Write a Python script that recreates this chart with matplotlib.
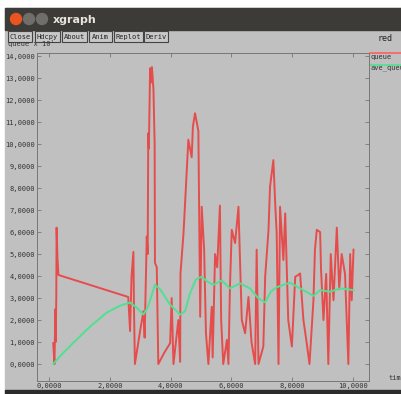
#!/usr/bin/env python3

import matplotlib
matplotlib.use('Agg')
import matplotlib.pyplot as plt
from matplotlib.patches import Rectangle, Circle
from matplotlib.ticker import FuncFormatter

# queue trace (x = time, y = queue x 10^1)
queue_t = [0.13, 0.17, 0.20, 0.21, 0.23, 0.24, 0.27, 0.30,
           2.60, 2.66, 2.71, 2.77, 2.79, 2.82,
           2.99, 3.10, 3.14, 3.21, 3.24, 3.26, 3.28, 3.32, 3.35, 3.38, 3.43, 3.47, 3.48, 3.54, 3.59,
           3.78, 3.98, 4.03, 4.09, 4.17, 4.25, 4.31, 4.32, 4.42, 4.50, 4.58, 4.69, 4.73, 4.80, 4.91,
           4.97, 5.02, 5.10, 5.16, 5.24, 5.35, 5.38, 5.46, 5.53, 5.62, 5.66, 5.73, 5.85, 5.90,
           5.95, 6.01, 6.12, 6.23, 6.34, 6.45, 6.56, 6.66, 6.78, 6.83, 6.89, 7.05, 7.11, 7.22,
           7.27, 7.38, 7.44, 7.49, 7.55, 7.60, 7.71, 7.77, 7.87, 7.99, 8.10, 8.20, 8.26, 8.37,
           8.48, 8.57, 8.70, 8.75, 8.81, 8.92, 8.95, 9.03, 9.12, 9.19, 9.27, 9.36, 9.47, 9.55,
           9.63, 9.74, 9.85, 9.91, 9.96, 10.02]
queue_v = [0.95, 0.0, 2.5, 1.0, 3.0, 6.2, 4.8, 4.05,
           3.05, 1.5, 4.0, 5.1, 2.5, 0.0,
           1.5, 2.4, 1.2, 5.8, 5.0, 10.5, 9.8, 13.45, 12.8, 13.5, 12.5, 10.0, 4.6, 4.4, 0.0,
           0.5, 0.95, 3.0, 0.0, 1.0, 2.0, 0.1, 4.1, 5.94, 8.06, 10.2, 9.4, 10.8, 11.4, 10.6,
           2.15, 7.15, 5.2, 1.4, 0.0, 2.6, 0.3, 5.0, 4.4, 7.2, 2.0, 0.0, 1.1, 0.0,
           3.5, 6.1, 5.5, 7.15, 2.0, 1.4, 3.05, 1.0, 0.0, 5.2, 0.0, 0.8, 3.97, 6.1,
           8.06, 9.27, 7.3, 5.94, 0.0, 7.15, 4.73, 6.85, 2.0, 0.8, 3.97, 4.05, 4.12, 2.0,
           0.94, 0.0, 2.9, 5.2, 6.1, 6.0, 4.3, 2.0, 4.1, 0.0, 5.0, 2.9, 6.2, 3.4,
           5.0, 4.1, 0.0, 5.0, 2.9, 5.2]

ave_t = [0.13, 0.35, 0.78, 1.34, 1.90, 2.33, 2.66, 2.89, 3.10, 3.25, 3.48, 3.65, 3.98,
         4.31, 4.47, 4.63, 4.83, 5.02, 5.20, 5.40, 5.68, 5.95, 6.28, 6.61, 6.88, 7.11,
         7.30, 7.50, 7.93, 8.26, 8.70, 8.92, 9.25, 9.58, 10.02]
ave_v = [0.0, 0.35, 0.95, 1.7, 2.35, 2.65, 2.8, 2.55, 2.25, 2.6, 3.6, 3.4, 2.7,
         2.25, 2.4, 3.2, 3.85, 3.97, 3.75, 3.6, 3.8, 3.44, 3.67, 3.44, 3.0, 2.8,
         3.3, 3.5, 3.7, 3.44, 3.1, 3.36, 3.29, 3.44, 3.36]

x_ticks = [0, 2, 4, 6, 8, 10]
y_ticks = list(range(0, 15))
buttons = ['Close', 'Hdcpy', 'About', 'Anim', 'Replot', 'Deriv']

W, H = 402, 394
fig = plt.figure(figsize=(W / 100, H / 100), dpi=100)
fig.patch.set_facecolor('white')

# window chrome drawn in pixel coordinates
bg = fig.add_axes([0, 0, 1, 1])
bg.set_xlim(0, W)
bg.set_ylim(H, 0)
bg.axis('off')
bg.add_patch(Rectangle((5, 8), W - 5, 384, color='#c0c0c0'))
bg.add_patch(Rectangle((5, 8), W - 5, 22, color='#3c3b37'))
bg.add_patch(Rectangle((5, 390), W - 5, 4, color='#2b2b2b'))
bg.add_patch(Circle((16, 19), 5.5, color='#e95420'))
bg.add_patch(Circle((29, 19), 5.5, color='#6f6e6a'))
bg.add_patch(Circle((42, 19), 5.5, color='#6f6e6a'))
bg.text(53, 19.5, 'xgraph', color='#e8e4dc', fontsize=8, fontweight='bold', va='center')
bg.text(8, 43.5, 'queue x 10¹', fontsize=5, family='DejaVu Sans Mono', color='#333333', va='center')
bx = [8, 35, 62, 89, 114, 144]
bw = [24, 25, 25, 23, 29, 24]
for label, x0, w in zip(buttons, bx, bw):
    bg.add_patch(Rectangle((x0, 31), w, 11, facecolor='#c8c8c8', edgecolor='#444444', lw=0.8))
    bg.text(x0 + w / 2, 36.8, label, fontsize=5, family='DejaVu Sans Mono', ha='center', va='center', color='#222222')
bg.text(378, 38, 'red', fontsize=6, family='DejaVu Sans Mono', va='center', color='#222222')
bg.plot([370, 402], [53, 53], color='#ff6060', lw=1.2)
bg.text(371, 56.5, 'queue', fontsize=5, family='DejaVu Sans Mono', va='center', color='#333333')
bg.plot([370, 402], [64.5, 64.5], color='#50e090', lw=1.2)
bg.text(371, 68, 'ave_queue', fontsize=5, family='DejaVu Sans Mono', va='center', color='#333333')
bg.text(389, 378, 'time', fontsize=5, family='DejaVu Sans Mono', va='center', color='#333333')

# plot area
ax = fig.add_axes([37 / W, (H - 381) / H, 332 / W, 328 / H])
ax.set_facecolor('#c0c0c0')
ax.plot(queue_t, queue_v, color='#ff0000', alpha=0.6, lw=1.4)
ax.plot(ave_t, ave_v, color='#50e090', lw=1.4)
ax.set_xlim(-0.405, 10.53)
ax.set_ylim(-0.77, 14.14)
ax.set_xticks(x_ticks)
ax.set_yticks(y_ticks)
fmt = FuncFormatter(lambda v, p: f'{v:.4f}'.replace('.', ','))
ax.xaxis.set_major_formatter(fmt)
ax.yaxis.set_major_formatter(fmt)
ax.tick_params(direction='in', length=3, width=0.6, color='#777777', labelsize=5,
               labelcolor='#333333', pad=1.5, top=True, right=True)
for lab in ax.get_xticklabels() + ax.get_yticklabels():
    lab.set_family('DejaVu Sans Mono')
for s in ax.spines.values():
    s.set_linestyle((0, (1, 1)))
    s.set_color('#777777')
    s.set_linewidth(0.7)

fig.savefig('out.png', dpi=100)
